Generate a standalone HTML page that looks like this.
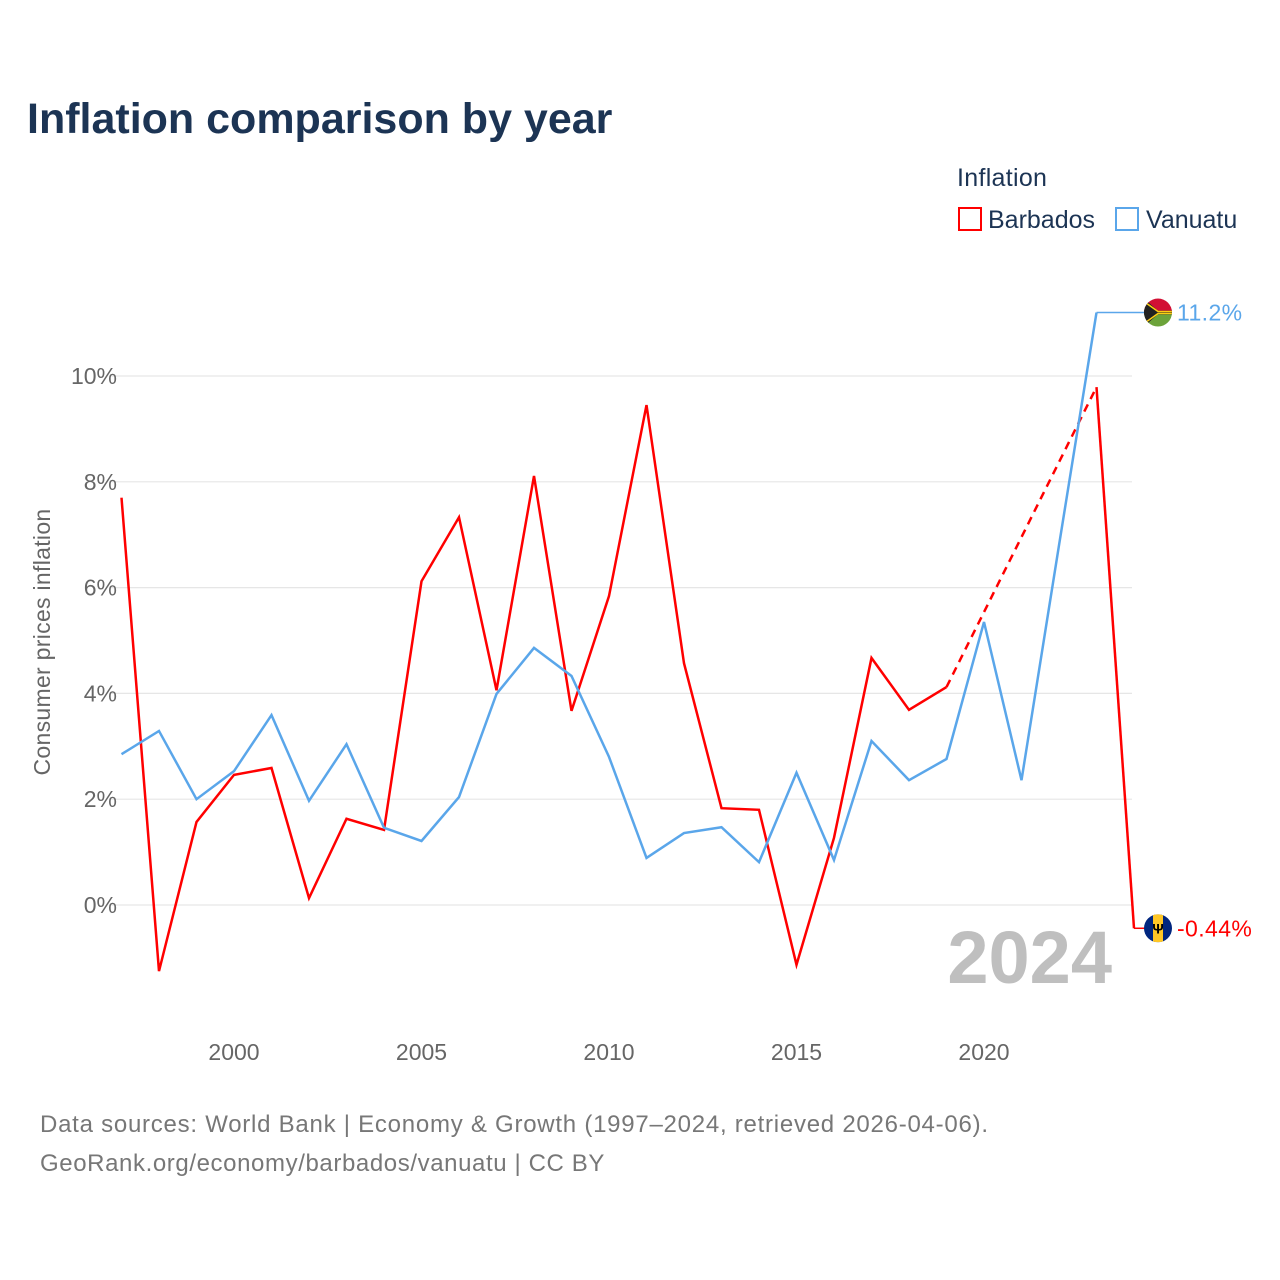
<!DOCTYPE html>
<html><head><meta charset="utf-8">
<style>
body{margin:0;background:#fff;font-family:"Liberation Sans",sans-serif;}
#wrap{position:relative;width:1280px;height:1280px;overflow:hidden;}
</style></head>
<body>
<div id="wrap">
<svg id="chart" width="1280" height="1280">
  <text x="27" y="133" font-size="43" font-weight="bold" fill="#1c3454">Inflation comparison by year</text>
  <text x="957" y="186" font-size="25" fill="#1c3454" letter-spacing="0.3">Inflation</text>
  <g>
    <rect x="959" y="208" width="22" height="22" fill="none" stroke="#ff0000" stroke-width="2"/>
    <text x="988" y="228" font-size="25" fill="#1c3454">Barbados</text>
  </g>
  <g>
    <rect x="1116" y="208" width="22" height="22" fill="none" stroke="#5aa6ea" stroke-width="2"/>
    <text x="1146" y="228" font-size="25" fill="#1c3454">Vanuatu</text>
  </g>
  <text transform="translate(50,642) rotate(-90)" text-anchor="middle" font-size="23" fill="#666" letter-spacing="0.3">Consumer prices inflation</text>
  <g id="grid"></g>
  <g id="xticks"></g>
  <text x="1112" y="983" text-anchor="end" font-size="74" font-weight="bold" fill="#bfbfbf">2024</text>
  <g id="series"></g>
  <text x="40" y="1132" font-size="24" fill="#777" letter-spacing="0.75">Data sources: World Bank | Economy &amp; Growth (1997–2024, retrieved 2026-04-06).</text>
  <text x="40" y="1171" font-size="24" fill="#777" letter-spacing="0.6">GeoRank.org/economy/barbados/vanuatu | CC BY</text>
</svg>
</div>
<script>
const years = [1997,1998,1999,2000,2001,2002,2003,2004,2005,2006,2007,2008,2009,2010,2011,2012,2013,2014,2015,2016,2017,2018,2019,2020,2021,2022,2023,2024];
const barbados = [7.7,-1.25,1.57,2.46,2.59,0.13,1.63,1.42,6.12,7.33,4.06,8.11,3.67,5.84,9.45,4.57,1.83,1.80,-1.13,1.27,4.67,3.69,4.12,null,null,null,9.79,-0.44];
const vanuatu = [2.85,3.29,2.0,2.53,3.59,1.97,3.04,1.46,1.21,2.04,3.99,4.86,4.33,2.8,0.89,1.36,1.47,0.81,2.5,0.85,3.1,2.36,2.76,5.35,2.36,6.8,11.2,null];
const yTicks = [0,2,4,6,8,10];
const xTicks = [2000,2005,2010,2015,2020];

const NS = "http://www.w3.org/2000/svg";
const xS = y => 121.5 + (y - 1997) * 37.5;
const yS = v => 905 - v * 52.9;
function mk(tag, attrs, parent){const e=document.createElementNS(NS,tag);for(const k in attrs)e.setAttribute(k,attrs[k]);parent.appendChild(e);return e;}

const grid = document.getElementById('grid');
yTicks.forEach(t=>{
  const l = mk('line',{x1:110,x2:1132,y1:yS(t),y2:yS(t),stroke:'#e6e6e6','stroke-width':1.2},grid);
  
  
  const tx = mk('text',{x:117,y:yS(t)+8,'text-anchor':'end','font-size':23,fill:'#666'},grid);
  tx.textContent = t+'%';
  
  
});
const xt = document.getElementById('xticks');
xTicks.forEach(t=>{
  const tx = mk('text',{x:xS(t),y:1060,'text-anchor':'middle','font-size':23,fill:'#666'},xt);
  tx.textContent = t;
  
  
});

const ser = document.getElementById('series');
function drawSeries(vals, color, name){
  let segs=[], cur=[], lastIdx=-1, bridges=[];
  vals.forEach((v,i)=>{
    if(v===null){ if(cur.length){segs.push(cur);cur=[];} return; }
    if(lastIdx>=0 && lastIdx!==i-1) bridges.push([lastIdx,i]);
    cur.push(i); lastIdx=i;
  });
  if(cur.length) segs.push(cur);
  segs.forEach(s=>{
    const p = mk('polyline',{points:s.map(i=>xS(years[i])+','+yS(vals[i])).join(' '),fill:'none',stroke:color,'stroke-width':2.5,'stroke-linejoin':'miter'},ser);
    
    
  });
  bridges.forEach(b=>{
    const d = mk('line',{x1:xS(years[b[0]]),y1:yS(vals[b[0]]),x2:xS(years[b[1]]),y2:yS(vals[b[1]]),stroke:color,'stroke-width':2.5,'stroke-dasharray':'8,6'},ser);
    
    
  });
  return lastIdx;
}
const bi = drawSeries(barbados,'#ff0000','barbados');
const vi = drawSeries(vanuatu,'#5aa6ea','vanuatu');

function endLabel(vals, idx, color, name, label, flag){
  const x0 = xS(years[idx]), y0 = yS(vals[idx]);
  const l = mk('line',{x1:x0,y1:y0,x2:1145,y2:y0,stroke:color,'stroke-width':1.5},ser);
  
  
  const g = mk('g',{transform:'translate(1158,'+y0+')'},ser);
  
  
  flag(g);
  const t = mk('text',{x:1177,y:y0+8,'font-size':23,fill:color,'letter-spacing':0.4},ser);
  t.textContent = label;
  
  
}
endLabel(vanuatu, vi, '#5aa6ea', 'vanuatu', '11.2%', g=>{
  mk('clipPath',{id:'cv'},g).appendChild(document.createElementNS(NS,'circle')).setAttribute('r',14);
  const c = mk('g',{'clip-path':'url(#cv)'},g);
  mk('rect',{x:-14,y:-14,width:28,height:14,fill:'#d21034'},c);
  mk('rect',{x:-14,y:0,width:28,height:14,fill:'#6ca33a'},c);
  mk('rect',{x:-14,y:-2,width:28,height:4,fill:'#222'},c);
  mk('polygon',{points:'-14,-14 2,0 -14,14',fill:'#222'},c);
  mk('polyline',{points:'-14,-11 0,-1 14,-1',fill:'none',stroke:'#fdce12','stroke-width':1.5},c);
  mk('polyline',{points:'-14,11 0,1 14,1',fill:'none',stroke:'#fdce12','stroke-width':1.5},c);
});
endLabel(barbados, bi, '#ff0000', 'barbados', '-0.44%', g=>{
  mk('clipPath',{id:'cb'},g).appendChild(document.createElementNS(NS,'circle')).setAttribute('r',14);
  const c = mk('g',{'clip-path':'url(#cb)'},g);
  mk('rect',{x:-14,y:-14,width:28,height:28,fill:'#00267f'},c);
  mk('rect',{x:-5,y:-14,width:10,height:28,fill:'#ffc726'},c);
  const t = mk('text',{x:0,y:5,'text-anchor':'middle','font-size':14,'font-weight':'bold',fill:'#000'},c);
  t.textContent='Ψ';
});
</script>
</body></html>
